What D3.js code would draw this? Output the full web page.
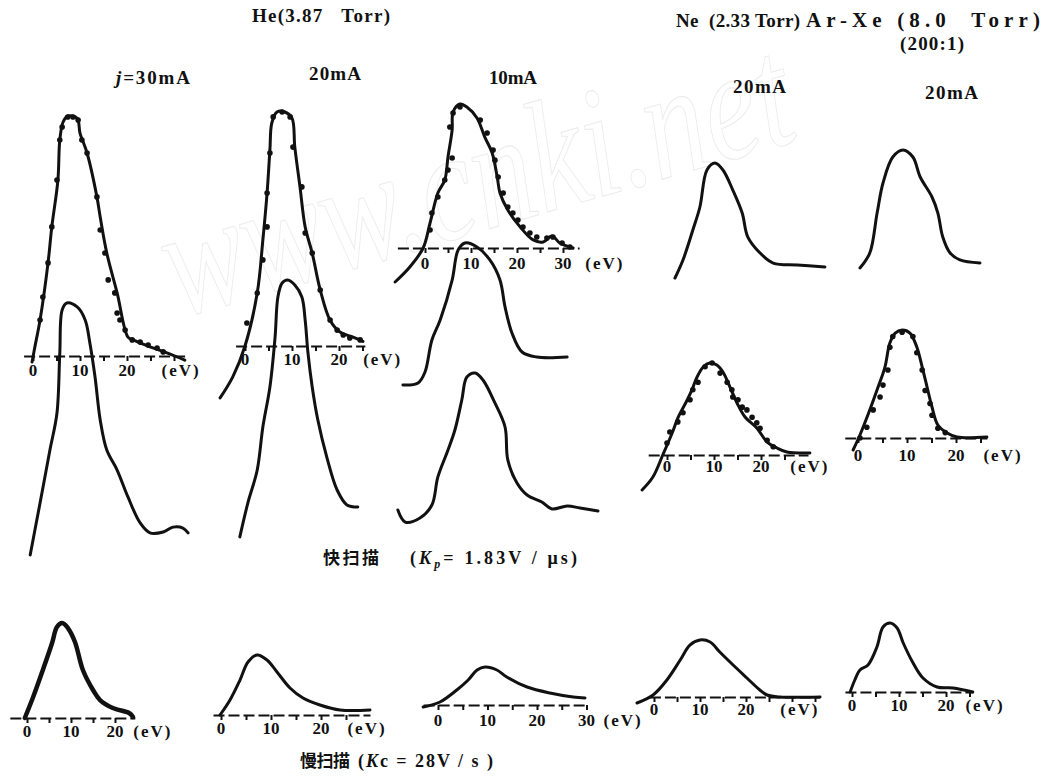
<!DOCTYPE html>
<html><head><meta charset="utf-8">
<script src="https://cdn.jsdelivr.net/npm/d3@7"></script>
<style>body{margin:0;background:#fff}svg{display:block}</style>
</head><body><svg id="c" width="1057" height="776"></svg>
<script>
// ---------- DATA (energy in eV, intensity in % of peak) ----------
// He 30 mA, fast scan, fitted curve + points
const he30FitE = [-0.2,0.4,1.5,3.2,4.0,5.3,5.7,6.4,7.4,9.4,10,11.5,13.6,14.3,15.7,17.9,20.2,21.3,24.9,28.5,32.3];
const he30FitI = [-2.5,3.8,15,38.8,53.8,73.3,90,97.5,100,99,92.9,84.6,66.3,57.9,42.9,26.3,7.9,6.7,3.8,1.3,-1.7];
const he30DotE = [1.5,2.1,3.2,4.0,5.1,5.7,6.2,7.4,8.5,9.6,10.4,11.5,13.6,14.3,15.3,16.0,17.4,17.9,18.5,19.6,21.1,22.8,24.5,26.4,27.7];
const he30DotI = [15,24.6,38.8,53.8,73.3,90,95.4,99.6,99.6,98.3,90,84.6,66.3,52.5,42.9,31.7,26.3,17.9,15,10.8,6.7,5.8,4.6,3.3,1.7];
// He 30 mA, fast scan, oscilloscope trace
const he30RawE = [-0.6,1.5,3.6,5.1,5.7,6.2,7.2,9.4,11.1,12.1,13.2,14.3,15.7,17.9,20.2,22.8,24.9,27.7,29.8,31.9,33];
const he30RawI = [-8.6,13.8,36.6,52.6,78.4,97,100,98.3,92.7,82.8,68.1,49.6,36.6,28,16.4,5.2,0.9,1.3,3.4,3,0.9];
// He 20 mA
const he20FitE = [-5.3,-2.6,0,2.6,3.8,4.7,5.3,5.7,6.8,8.5,10,10.6,11.7,12.8,14.3,16,18.1,20.2,23,25.1];
const he20FitI = [-22.2,-13.2,0,22.6,45.3,65.4,83.8,95.3,100,100,97.4,85,68,50.9,39.7,24,11,6,3.8,2];
const he20DotE = [0.4,2.6,3.8,4.7,4.7,5.3,6.0,7.9,9.6,10.2,12.1,12.8,14.3,16.0,18.1,19.6,20.9,22.3,24.5];
const he20DotI = [9.8,22.6,36.8,50.9,65.4,82.5,97.9,100,97.9,85,68,48.3,39.7,23.9,11.1,6.8,4.7,3.4,2.6];
const he20RawE = [-1.1,0.6,2.6,3.8,5.3,6.4,7.0,7.9,9.1,10.6,12.1,12.8,13.4,14.3,15.5,17.4,19.6,21.7,24.0];
const he20RawI = [-11.7,3,17.4,36.1,53.5,75.2,92.6,98.7,100,97.8,92.6,82.6,68.3,53.5,39.1,23,8.7,2.2,1.3];
// He 10 mA
const he10FitE = [-6.5,-3.3,-0.4,1.1,2.8,4.3,5.0,5.9,6.1,7.6,9.1,11.3,13.0,14.6,15.7,16.3,18.0,20.7,23.5,25.7,27.6,29.3,32.2];
const he10FitI = [-23.6,-13.2,0,17.4,38.2,47.2,63.2,82,94.4,100,97.9,90.3,77,66,49.3,38.2,26.4,14.6,5.6,4.2,8.3,3.5,0];
const he10DotE = [1.1,1.5,2.8,4.3,5.0,5.9,5.4,6.1,7.6,12.0,13.5,14.8,15.2,15.9,17.0,18.0,19.1,20.2,21.3,22.8,24.3,26.5,27.8,29.8,31.5];
const he10DotI = [12.5,24.3,35.4,47.2,54.2,62.5,84,93.8,97.9,88.9,79.9,68,61,49.3,38.2,28.5,24.3,19.4,14.6,10.4,7.6,6.9,7.6,3.5,0.7];
const he10RawAE = [-4.8,-1.5,0,1.5,3.3,5.9,7.2,8.7,11.3,14.1,16.3,17.4,18.9,21.1,24.3,30.9];
const he10RawAI = [-24.6,-22.8,-13.2,14.9,32.5,67.5,93.9,100,96.5,85.1,67.5,43.9,21.1,4.4,0,0];
const he10RawBE = [-5.9,-4.3,-1.1,1.5,2.8,5.0,6.5,8.0,9.1,10.9,12.6,15.2,17.4,18.0,20.0,22.2,25.4,27.6,30.9,33.7,37.6];
const he10RawBI = [-1.5,-10.4,-7.4,2.2,23,43,57.8,80,97,100,94.8,77.8,60,35.6,18.5,9.6,4.4,-0.7,1.5,0,-2.2];
// Ne 20 mA
const neRawE = [1.7,3.4,5.5,7.0,8.5,10.2,11.9,14.0,16.0,17.2,19.8,22.6,27.7,33.6];
const neRawI = [-10.6,6.7,35.6,57.7,93.3,100,93.3,74,51.9,28.8,13.5,3.8,1.9,0];
const neFitE = [-5.3,-3.0,-0.9,1.1,2.3,4.3,5.3,6.4,7.7,9.1,10.6,11.9,13.4,14.9,16.6,19.1,21.3,23.4,25.5,30.4];
const neFitI = [-38,-23.9,0,23.9,40.2,59.8,70.7,84.8,95.7,100,97.8,90.2,73.9,56.5,41.3,29.3,14.1,7.6,3.3,2.2];
const neDotE = [0,0.6,2.3,3.4,4.9,5.5,6.6,8.1,9.6,11.3,12.8,13.8,14.0,15.1,16.0,17.0,18.1,19.1,19.8,21.3,22.6];
const neDotI = [13,25,36,46,60,71,79,96,100,89,79,71,63,60,52,49,41,35,29,16,9];
// Ar-Xe 20 mA
const axRawE = [0.4,2.4,3.9,5.1,7.1,9.2,11.2,12.7,15.1,16.3,17.3,18.8,20.8,24.9];
const axRawI = [-4.4,8.8,44.2,70.8,93.8,100,93.8,76.1,58.4,44.2,23,8.8,2.7,0];
const axFitE = [-1.0,0.4,2.4,4.1,5.5,6.5,7.6,9.0,10.6,12.0,13.1,14.1,15.1,16.3,18.2,20.2,26.3];
const axFitI = [-11.1,2.8,25.9,47.2,65.7,88,97.2,100,97.2,84.3,65.7,47.2,28.7,12,4.6,0.9,0.9];
const axDotE = [0.4,1.8,3.1,4.5,5.1,6.1,6.5,7.1,9.0,11.2,12.0,13.1,13.7,14.7,15.1,16.3,17.8];
const axDotI = [0,10,26,38,49,63,84,94,98,94,79,63,44,32,21,9,5];
// Slow scans
const sHe30E = [-0.5,1.4,3.6,5.7,6.8,8.0,9.3,10.9,12.7,15.0,16.6,19.5,23.2,24.1];
const sHe30I = [0,22.1,50.5,78.9,95.8,100,94.7,80,50.5,29.5,18.9,10.5,5.3,1.1];
const sHe20E = [-0.2,1.8,3.8,5.4,7.2,9.2,11.2,13.8,16.4,19.8,23.8,29.8];
const sHe20I = [0,25,58.3,88.3,100,91.7,71.7,45,28.3,16.7,8.3,8.3];
const sHe10E = [-3.0,0.4,3.8,6.1,7.9,9.5,11.9,13.9,18.0,22.6,27.3,29.7];
const sHe10I = [-5.3,7.9,39.5,65.8,92.1,100,92.1,73.7,47.4,31.6,21.1,18.4];
const sNeE = [-3.7,-0.2,2.8,5.7,7.8,10.0,12.2,14.3,17.2,20.2,23.0,24.6,27.4,36.1];
const sNeI = [-10.5,3.5,29.8,64.9,91.2,100,96.5,78.9,56.1,33.3,12.3,3.5,0,0];
const sAxE = [-0.4,0.6,1.7,3.4,5.3,6.6,8.1,9.6,10.9,13.0,15.1,18.1,21.5,25.7];
const sAxI = [0,17.4,31.9,39.1,65.2,94.2,100,92.8,71,42,20.3,7.2,5.8,0];
// Axis tick values / labels
const ticks20 = [0,5,10,15,20];
const ticks25 = [0,5,10,15,20,25];
const ticks30 = [0,5,10,15,20,25,30];
const ticks35 = [0,5,10,15,20,25,30,35];
const labels20 = [0,10,20];
const labels30 = [0,10,20,30];

// ---------- LAYOUT ----------
const svg = d3.select("#c");
const serif = "'Liberation Serif','DejaVu Serif',serif";
const cjk = "'Noto Sans CJK SC','Noto Sans CJK JP',sans-serif";

// faint watermark
svg.append("text")
  .attr("transform","translate(178,318) rotate(-16) scale(1,1.3)")
  .attr("font-family",serif).attr("font-size",122).attr("font-style","italic")
  .attr("fill","none").attr("stroke","#ececec").attr("stroke-width",0.8)
  .text("www.cnki.net");

function scales(c){
  const x = d3.scaleLinear().domain([0,10]).range([c.x0, c.x0+10*c.k]);
  const y = d3.scaleLinear().domain([0,100]).range([c.base, c.base-c.h]);
  return {x,y};
}
function curve(c, E, I, sw){
  const {x,y} = scales(c);
  const pts = E.map((e,i)=>[e,I[i]]);
  const line = d3.line().x(d=>x(d[0])).y(d=>y(d[1])).curve(d3.curveCatmullRom.alpha(0.5));
  svg.append("path").datum(pts).attr("d",line)
    .attr("fill","none").attr("stroke","#111").attr("stroke-width",sw||3)
    .attr("stroke-linecap","round").attr("stroke-linejoin","round");
}
function dots(c, E, I){
  const {x,y} = scales(c);
  svg.append("g").selectAll("circle").data(E.map((e,i)=>[e,I[i]])).join("circle")
    .attr("cx",d=>x(d[0])).attr("cy",d=>y(d[1])).attr("r",2.8).attr("fill","#111");
}
function axis(c){
  const {x} = scales(c);
  const g = svg.append("g").attr("transform",`translate(0,${c.base})`);
  const ax = d3.axisBottom(d3.scaleLinear().domain(c.range).range([x(c.range[0]),x(c.range[1])]))
    .tickValues(c.ticks).tickSize(5).tickSizeOuter(0).tickFormat("");
  g.call(ax);
  g.select(".domain").attr("stroke","#111").attr("stroke-width",2.2).attr("stroke-dasharray","11,4");
  g.selectAll(".tick line").attr("stroke","#111").attr("stroke-width",2);
  g.selectAll("text.lab").data(c.labels).join("text").attr("class","lab")
    .attr("x",d=>x(d)).attr("y",c.lab).attr("text-anchor","middle")
    .attr("font-family",serif).attr("font-weight","bold").attr("font-size",17)
    .attr("dominant-baseline","middle").attr("fill","#111").text(d=>d);
  g.append("text").attr("x",x(c.ev)).attr("y",c.lab).attr("text-anchor","middle")
    .attr("font-family",serif).attr("font-weight","bold").attr("font-size",17)
    .attr("dominant-baseline","middle").attr("letter-spacing",2).attr("fill","#111").text("(eV)");
}

// panel configs (pixel layout)
const P = {
  he30f:{x0:33,k:4.7,base:356,h:240,range:[-2,32.5],ticks:ticks30,labels:labels20,ev:31.5,lab:16},
  he30r:{x0:33,k:4.7,base:535,h:232},
  he20f:{x0:245,k:4.7,base:346,h:234,range:[-2,25.5],ticks:ticks25,labels:labels20,ev:29.3,lab:15},
  he20r:{x0:245,k:4.7,base:510,h:230},
  he10f:{x0:425,k:4.6,base:248,h:144,range:[-6,33.5],ticks:ticks30,labels:labels30,ev:39.1,lab:17},
  he10a:{x0:425,k:4.6,base:357,h:114},
  he10b:{x0:425,k:4.6,base:508,h:135},
  neR:{x0:667,k:4.7,base:267,h:104},
  neF:{x0:667,k:4.7,base:455,h:92,range:[-4,30],ticks:ticks25,labels:labels20,ev:30.4,lab:13},
  axR:{x0:858,k:4.9,base:263,h:113},
  axF:{x0:858,k:4.9,base:438,h:108,range:[-2.7,26.3],ticks:ticks25,labels:labels20,ev:29.6,lab:19},
  s1:{x0:27,k:4.4,base:718,h:95,range:[-3.9,24.5],ticks:ticks20,labels:labels20,ev:28.6,lab:15},
  s2:{x0:221,k:5,base:715,h:60,range:[-1.6,29.8],ticks:ticks25,labels:labels20,ev:29.2,lab:15},
  s3:{x0:438,k:4.95,base:705,h:38,range:[-3,30],ticks:ticks30,labels:labels30,ev:37.4,lab:17},
  s4:{x0:654,k:4.6,base:697,h:57,range:[-1,36],ticks:ticks35,labels:labels20,ev:31.7,lab:14},
  s5:{x0:852,k:4.7,base:692,h:69,range:[-1.5,25.7],ticks:ticks25,labels:labels20,ev:28.3,lab:15}
};

// axes
["he30f","he20f","he10f","neF","axF","s1","s2","s3","s4","s5"].forEach(k=>axis(P[k]));

// curves
curve(P.he30f, he30FitE, he30FitI); dots(P.he30f, he30DotE, he30DotI);
curve(P.he30r, he30RawE, he30RawI);
curve(P.he20f, he20FitE, he20FitI); dots(P.he20f, he20DotE, he20DotI);
curve(P.he20r, he20RawE, he20RawI);
curve(P.he10f, he10FitE, he10FitI); dots(P.he10f, he10DotE, he10DotI);
curve(P.he10a, he10RawAE, he10RawAI);
curve(P.he10b, he10RawBE, he10RawBI);
curve(P.neR, neRawE, neRawI);
curve(P.neF, neFitE, neFitI); dots(P.neF, neDotE, neDotI);
curve(P.axR, axRawE, axRawI);
curve(P.axF, axFitE, axFitI); dots(P.axF, axDotE, axDotI);
curve(P.s1, sHe30E, sHe30I, 4.5);
curve(P.s2, sHe20E, sHe20I, 3);
curve(P.s3, sHe10E, sHe10I, 3);
curve(P.s4, sNeE, sNeI, 3);
curve(P.s5, sAxE, sAxI, 3);

// texts
function txt(x,y,s,opts){
  const t = svg.append("text").attr("x",x).attr("y",y)
    .attr("font-family",(opts&&opts.cjk)?cjk:serif).attr("font-weight","bold")
    .attr("font-size",(opts&&opts.fs)||19).attr("fill","#111").attr("xml:space","preserve")
    .style("white-space","pre");
  if(opts&&opts.len) t.attr("textLength",opts.len).attr("lengthAdjust","spacing");
  t.text(s);
  return t;
}
txt(252,22,"He(3.87   Torr)",{len:138});
txt(676,27,"Ne  (2.33 Torr)",{len:124});
txt(806,27,"Ar-Xe (8.0  Torr)",{fs:21,len:234});
txt(900,50,"(200:1)",{len:64});
const j = txt(116,84,"",{len:74});
j.append("tspan").attr("font-style","italic").text("j");
j.append("tspan").text("=30mA");
txt(309,80,"20mA",{len:52});
txt(489,84,"10mA",{len:48});
txt(733,93,"20mA",{len:53});
txt(925,99,"20mA",{len:53});

txt(323,564,"快扫描",{cjk:true,fs:17,len:56});
const kp = txt(410,564,"",{fs:18,len:167});
kp.append("tspan").text("(");
kp.append("tspan").attr("font-style","italic").text("K");
kp.append("tspan").attr("font-size",12).attr("dy",4).attr("font-style","italic").text("p");
kp.append("tspan").attr("dy",-4).text("= 1.83V / μs)");
txt(300,767,"慢扫描",{cjk:true,fs:17,len:50});
const kc = txt(358,767,"",{fs:18,len:135});
kc.append("tspan").text("(");
kc.append("tspan").attr("font-style","italic").text("K");
kc.append("tspan").text("c = 28V / s )");
</script></body></html>
